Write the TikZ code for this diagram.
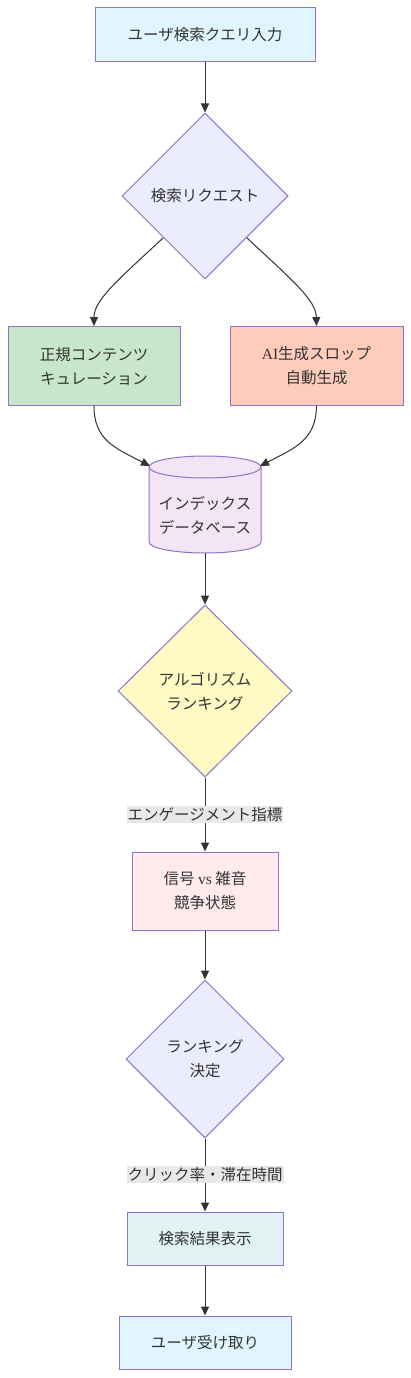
\documentclass[tikz,border=0pt]{standalone}
\usepackage{fontspec}
\setmainfont{Noto Sans CJK JP}
\newfontfamily\latin{Liberation Serif}
\usetikzlibrary{shapes.geometric,arrows.meta}
\definecolor{bord0}{HTML}{9370DB}
\colorlet{bord}{bord0!80!gray}
\definecolor{txt}{HTML}{333333}
\definecolor{line}{HTML}{333333}
\definecolor{cblue}{HTML}{E1F5FE}
\definecolor{cdia}{HTML}{ECECFF}
\definecolor{cgreen}{HTML}{C8E6C9}
\definecolor{corange}{HTML}{FFCCBC}
\definecolor{ccyl}{HTML}{F3E5F5}
\definecolor{cyellow}{HTML}{FFF9C4}
\definecolor{cpink}{HTML}{FFEBEE}
\definecolor{cteal}{HTML}{E0F2F1}
\definecolor{clab}{HTML}{E8E8E8}
\begin{document}
\begin{tikzpicture}[x=1pt,y=-1pt,
  every node/.style={font=\fontsize{15.5pt}{24pt}\selectfont, text=txt, align=center},
  box/.style={draw=bord, line width=1pt, rectangle, inner sep=0pt},
  dia/.style={draw=bord, line width=1pt, diamond, aspect=1, inner sep=0pt},
  edge/.style={draw=line, line width=1pt, -{Triangle[length=9pt,width=8pt]}},
  lab/.style={fill=clab, inner sep=1pt, font=\fontsize{15.5pt}{18pt}\selectfont}
]
\useasboundingbox (0,0) rectangle (411,1378);
\fill[white] (0,0) rectangle (411,1378);

\node[box, fill=cblue, minimum width=220pt, minimum height=54pt] (n1) at (205,35) {ユーザ検索クエリ入力};
\node[dia, fill=cdia, minimum width=166pt, minimum height=166pt] (n2) at (205,196) {検索リクエスト};
\node[box, fill=cgreen, minimum width=172pt, minimum height=79pt] (n3) at (94,366) {正規コンテンツ\\キュレーション};
\node[box, fill=corange, minimum width=173pt, minimum height=79pt] (n4) at (316.5,366) {{\latin AI}生成スロップ\\自動生成};

% cylinder
\fill[ccyl] (149,467) -- (149,542) arc[start angle=180,end angle=360,x radius=56,y radius=-11] -- (261,467) arc[start angle=0,end angle=180,x radius=56,y radius=-11] -- cycle;
\draw[bord, line width=1pt] (149,467) -- (149,542) arc[start angle=180,end angle=360,x radius=56,y radius=-11] -- (261,467);
\draw[bord, line width=1pt] (205,467) ellipse[x radius=56, y radius=11];
\node[inner sep=0pt, minimum width=112pt, minimum height=97pt] (n5) at (205,515) {インデックス\\データベース};
\coordinate (n5l) at (150,466);
\coordinate (n5r) at (260,466);

\node[dia, fill=cyellow, minimum width=174pt, minimum height=172pt] (n6) at (205,691) {アルゴリズム\\ランキング};
\node[box, fill=cpink, minimum width=146pt, minimum height=78pt] (n7) at (205,891) {信号 {\latin vs} 雑音\\競争状態};
\node[dia, fill=cdia, minimum width=158pt, minimum height=158pt] (n8) at (205,1059) {ランキング\\決定};
\node[box, fill=cteal, minimum width=156pt, minimum height=53pt] (n9) at (205,1238.5) {検索結果表示};
\node[box, fill=cblue, minimum width=172pt, minimum height=53pt] (n10) at (205,1342.5) {ユーザ受け取り};

\draw[edge] (n1.south) -- (n2.north);
\draw[edge] (n2.south west) .. controls (118,280) and (94,300) .. (n3.north);
\draw[edge] (n2.south east) .. controls (292,280) and (316,300) .. (n4.north);
\draw[edge] (n3.south) .. controls (94,440) and (115,448) .. (n5l);
\draw[edge] (n4.south) .. controls (316,440) and (295,448) .. (n5r);
\draw[edge] (205,553) -- (n6.north);
\draw[edge] (n6.south) -- node[lab, pos=0.5] (l1) {エンゲージメント指標} (n7.north);
\draw[edge] (n7.south) -- (n8.north);
\draw[edge] (n8.south) -- node[lab, pos=0.49] (l2) {クリック率・滞在時間} (n9.north);
\draw[edge] (n9.south) -- (n10.north);
\end{tikzpicture}
\end{document}
